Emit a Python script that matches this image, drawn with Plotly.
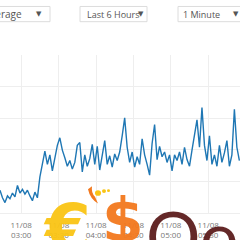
import plotly.graph_objects as go
import pandas as pd

# ---- data ----
start_time = "2023-11-08 02:43"
step_minutes = 2
values = [7.2, 4.8, 3.3, 5.4, 4.5, 6.3, 5.1, 8.7, 6.3, 7.5, 6.0, 7.2, 5.4, 3.9, 6.6, 4.8,
          11.4, 16.0, 19.6, 15.4, 18.4, 13.3, 17.5, 21.4, 23.8, 19.9, 17.5, 14.8, 16.6, 13.9,
          16.0, 21.4, 22.3, 13.0, 18.4, 14.8, 17.2, 21.7, 15.4, 21.1, 13.6, 18.4, 22.9, 15.4,
          18.1, 14.5, 18.7, 16.6, 19.3, 24.4, 30.1, 20.8, 16.0, 19.3, 14.5, 17.8, 15.4, 23.5,
          18.4, 15.4, 12.0, 22.0, 28.0, 16.9, 21.1, 17.8, 19.3, 16.0, 18.4, 13.3, 18.4, 16.6,
          19.3, 15.4, 20.8, 16.9, 14.8, 19.9, 24.4, 29.5, 20.8, 33.4, 21.4, 16.6, 24.4, 15.4,
          18.4, 14.8, 21.4, 16.0, 19.0, 22.9, 14.8, 18.4, 32.8, 20.8, 16.6]
times = pd.date_range(start_time, periods=len(values), freq=f"{step_minutes}min")

x_range = ["2023-11-08 02:43:00", "2023-11-08 05:55:30"]
y_range = [0, 50]

stat_label = "Average"
period_label = "Last 6 Hours"
interval_label = "1 Minute"

logo_euro = "€"
logo_dollar = "$"
logo_word = "Qoni"

W, H = 240, 240
TOP, BOT = 55, 221


def px(x):
    return x / W


def py(y):
    return (BOT - y) / (BOT - TOP)


fig = go.Figure()
fig.add_trace(go.Scatter(
    x=times, y=values, mode="lines",
    line=dict(color="#1f77b4", width=1.4), hoverinfo="skip"))

# dropdown boxes
shapes = []
boxes = [(-10, 50), (80, 147), (178, 245)]
for x0, x1 in boxes:
    shapes.append(dict(type="rect", xref="paper", yref="paper",
                       x0=px(x0), x1=px(x1), y0=py(20), y1=py(4),
                       line=dict(color="#dcdcdc", width=1), fillcolor="white"))

ann = []
txt_font = dict(family="Open Sans, Arial", size=9, color="#555")
ann.append(dict(text=stat_label, x=px(24), y=py(12), xanchor="right", yanchor="middle",
                xref="paper", yref="paper", showarrow=False,
                font=dict(family="Open Sans, Arial", size=10, color="#555")))
ann.append(dict(text=period_label, x=px(85), y=py(12), xanchor="left", yanchor="middle",
                xref="paper", yref="paper", showarrow=False, font=txt_font))
ann.append(dict(text=interval_label, x=px(181), y=py(12), xanchor="left", yanchor="middle",
                xref="paper", yref="paper", showarrow=False, font=txt_font))
for ax_ in (39, 141, 236):
    ann.append(dict(text="▼", x=px(ax_), y=py(12), xanchor="center", yanchor="middle",
                    xref="paper", yref="paper", showarrow=False,
                    font=dict(family="DejaVu Sans", size=7, color="#555")))

# watermark logo
ann.append(dict(text="<b>" + logo_euro + "</b>", x=px(67), y=py(237), xanchor="center",
                yanchor="middle", xref="paper", yref="paper", showarrow=False,
                font=dict(family="DejaVu Sans", size=66, color="rgba(250,196,20,0.95)")))
ann.append(dict(text="<b>" + logo_dollar + "</b>", x=px(123), y=py(228), xanchor="center",
                yanchor="middle", xref="paper", yref="paper", showarrow=False,
                font=dict(family="DejaVu Sans", size=60, color="rgba(242,120,30,0.95)")))
ann.append(dict(text=logo_word, x=px(144), y=py(244), xanchor="left", yanchor="middle",
                xref="paper", yref="paper", showarrow=False,
                font=dict(family="Lato", size=68, color="rgba(92,28,28,0.95)")))
# small decorative dots / arc
shapes.append(dict(type="circle", xref="paper", yref="paper",
                   x0=px(95), x1=px(101), y0=py(203), y1=py(197),
                   fillcolor="#f9c414", line=dict(width=0)))
shapes.append(dict(type="circle", xref="paper", yref="paper",
                   x0=px(102), x1=px(106), y0=py(200), y1=py(196),
                   fillcolor="#f9c414", line=dict(width=0)))
shapes.append(dict(type="circle", xref="paper", yref="paper",
                   x0=px(107), x1=px(110), y0=py(199), y1=py(196),
                   fillcolor="#f9c414", line=dict(width=0)))
shapes.append(dict(type="path", xref="paper", yref="paper",
                   path=f"M {px(88)},{py(196)} Q {px(90)},{py(206)} {px(98)},{py(211)} "
                        f"L {px(95)},{py(204)} Q {px(91)},{py(200)} {px(92)},{py(193)} Z",
                   fillcolor="#f2781e", line=dict(width=0)))

fig.update_layout(
    width=W, height=H,
    margin=dict(l=0, r=0, t=TOP, b=H - BOT, pad=0),
    paper_bgcolor="white", plot_bgcolor="white",
    showlegend=False,
    shapes=shapes, annotations=ann,
    xaxis=dict(type="date", range=x_range, dtick=30 * 60 * 1000,
               tick0="2023-11-08 03:00", tickformat="%m/%d<br>%H:%M",
               showgrid=True, gridcolor="#eeeeee", gridwidth=1,
               zeroline=False, showline=True, linecolor="#eeeeee",
               ticks="outside", ticklen=4, tickcolor="rgba(0,0,0,0)",
               tickfont=dict(family="Open Sans, Arial", size=8, color="#777")),
    yaxis=dict(range=y_range, dtick=10, showgrid=True, gridcolor="#eeeeee",
               gridwidth=1, zeroline=False, showticklabels=False, ticks=""),
)

fig.write_html("out.html")
